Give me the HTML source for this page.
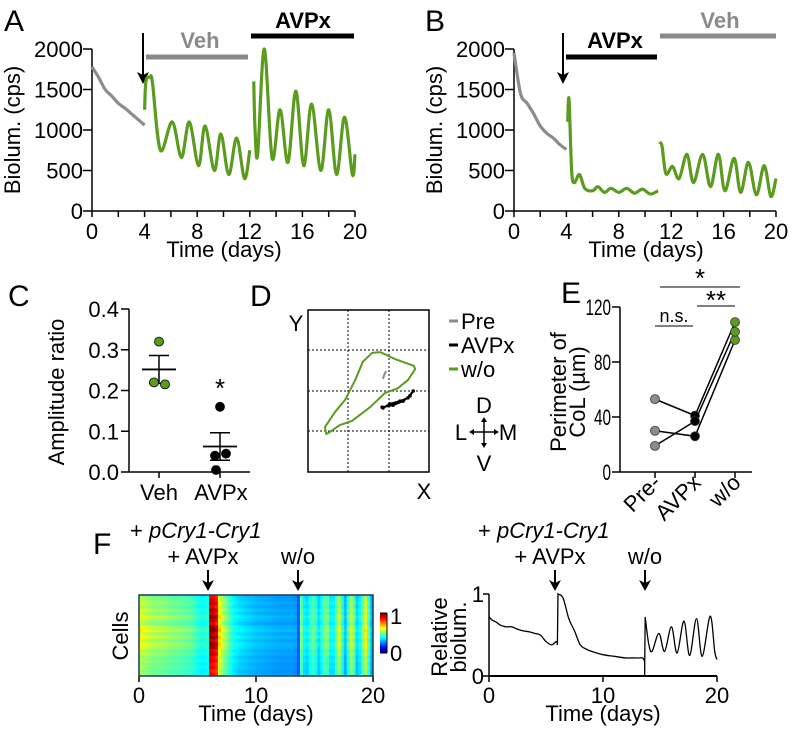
<!DOCTYPE html>
<html><head><meta charset="utf-8"><style>
html,body{margin:0;padding:0;background:#fff;}
svg{display:block;font-family:"Liberation Sans",sans-serif;}
.t{font-size:22px;fill:#000;}
.L{font-size:30px;fill:#000;}
</style></head><body>
<svg id="fig" width="793" height="731" viewBox="0 0 793 731" xmlns="http://www.w3.org/2000/svg">
<!-- Panel A -->
<g>
<text class="L" x="4" y="31">A</text>
<text x="200" y="48" text-anchor="middle" font-size="22" font-weight="bold" fill="#8a8a8a">Veh</text>
<line x1="146" y1="57" x2="248" y2="57" stroke="#8a8a8a" stroke-width="5"/>
<text x="303" y="28" text-anchor="middle" font-size="22" font-weight="bold">AVPx</text>
<line x1="251" y1="36" x2="354" y2="36" stroke="#000" stroke-width="5"/>
<g><line x1="143" y1="33" x2="143" y2="76" stroke="#000" stroke-width="2"/><path d="M137,72 L143,84 L149,72 L143,75 Z" fill="#000"/></g>
<text class="t" transform="translate(20,130) rotate(-90)" text-anchor="middle">Biolum. (cps)</text>
<text class="t" x="224" y="257" text-anchor="middle">Time (days)</text>
<g id="axA"></g>
</g>
<!-- Panel B -->
<g>
<text class="L" x="425" y="31">B</text>
<text x="615" y="48" text-anchor="middle" font-size="22" font-weight="bold">AVPx</text>
<line x1="566" y1="57" x2="657" y2="57" stroke="#000" stroke-width="5"/>
<text x="720" y="28" text-anchor="middle" font-size="22" font-weight="bold" fill="#8a8a8a">Veh</text>
<line x1="660" y1="36" x2="776" y2="36" stroke="#8a8a8a" stroke-width="5"/>
<g><line x1="563" y1="33" x2="563" y2="76" stroke="#000" stroke-width="2"/><path d="M557,72 L563,84 L569,72 L563,75 Z" fill="#000"/></g>
<text class="t" transform="translate(442,130) rotate(-90)" text-anchor="middle">Biolum. (cps)</text>
<text class="t" x="646" y="257" text-anchor="middle">Time (days)</text>
<g id="axB"></g>
</g>
<!-- Panel C -->
<g>
<text class="L" x="8" y="306">C</text>
<text class="t" transform="translate(64,392) rotate(-90)" text-anchor="middle">Amplitude ratio</text>
<text class="t" x="159" y="500" text-anchor="middle">Veh</text>
<text class="t" x="221" y="500" text-anchor="middle">AVPx</text>
<text x="220" y="397" text-anchor="middle" font-size="26">*</text>
<g id="axC"></g>
</g>
<!-- Panel D -->
<g>
<text class="L" x="250" y="306">D</text>
<text class="t" x="296" y="331" text-anchor="middle">Y</text>
<text class="t" x="424" y="499" text-anchor="middle">X</text>
<rect x="308" y="310" width="121" height="162" fill="none" stroke="#000" stroke-width="1.5"/>
<g stroke="#000" stroke-width="1" stroke-dasharray="2,2">
<line x1="348" y1="310" x2="348" y2="472"/><line x1="389" y1="310" x2="389" y2="472"/>
<line x1="308" y1="350" x2="429" y2="350"/><line x1="308" y1="391" x2="429" y2="391"/><line x1="308" y1="431" x2="429" y2="431"/>
</g>
<g id="dPlot"></g>
<g>
<line x1="449" y1="321" x2="458" y2="321" stroke="#8c8c8c" stroke-width="3"/><text class="t" x="461" y="329">Pre</text>
<line x1="449" y1="345" x2="458" y2="345" stroke="#000" stroke-width="3"/><text class="t" x="461" y="353">AVPx</text>
<line x1="449" y1="369" x2="458" y2="369" stroke="#5b9b1d" stroke-width="3"/><text class="t" x="461" y="377">w/o</text>
</g>
<g>
<text class="t" x="484" y="413" text-anchor="middle">D</text>
<text class="t" x="461" y="440" text-anchor="middle">L</text>
<text class="t" x="508" y="440" text-anchor="middle">M</text>
<text class="t" x="484" y="471" text-anchor="middle">V</text>
<line x1="471" y1="432" x2="497" y2="432" stroke="#000" stroke-width="1.5"/>
<line x1="484" y1="419" x2="484" y2="446" stroke="#000" stroke-width="1.5"/>
<path d="M469,432 l5,-3 v6z M499,432 l-5,-3 v6z M484,417 l-3,5 h6z M484,448 l-3,-5 h6z" fill="#000"/>
</g>
</g>
<!-- Panel E -->
<g>
<text class="L" x="561" y="303">E</text>
<text class="t" transform="translate(566,392) rotate(-90)" text-anchor="middle">Perimeter of</text>
<text class="t" transform="translate(585,392) rotate(-90)" text-anchor="middle">CoL (µm)</text>
<text class="t" transform="translate(662,484) rotate(-45)" text-anchor="end">Pre-</text>
<text class="t" transform="translate(702,484) rotate(-45)" text-anchor="end">AVPx</text>
<text class="t" transform="translate(742,484) rotate(-45)" text-anchor="end">w/o</text>
<line x1="660" y1="287" x2="740" y2="287" stroke="#000" stroke-width="1"/>
<text x="700" y="287" text-anchor="middle" font-size="26">*</text>
<line x1="697" y1="306" x2="735" y2="306" stroke="#000" stroke-width="1"/>
<text x="716" y="309" text-anchor="middle" font-size="26">**</text>
<line x1="655" y1="326" x2="693" y2="326" stroke="#000" stroke-width="1"/>
<text x="674" y="322" text-anchor="middle" font-size="18">n.s.</text>
<g id="axE"></g>
</g>
<!-- Panel F -->
<g>
<text class="L" x="93" y="554">F</text>
<text class="t" x="130" y="538">+ <tspan font-style="italic">pCry1-Cry1</tspan></text>
<text class="t" x="203" y="564" text-anchor="middle">+ AVPx</text>
<text class="t" x="298" y="564" text-anchor="middle">w/o</text>
<g><line x1="208" y1="570" x2="208" y2="584" stroke="#000" stroke-width="2"/><path d="M202,580 L208,591 L214,580 L208,583 Z" fill="#000"/></g>
<g><line x1="298" y1="570" x2="298" y2="584" stroke="#000" stroke-width="2"/><path d="M292,580 L298,591 L304,580 L298,583 Z" fill="#000"/></g>
<text class="t" transform="translate(128,636) rotate(-90)" text-anchor="middle">Cells</text>
<text class="t" x="256" y="721" text-anchor="middle">Time (days)</text>
<g id="heat"></g>
<rect x="139" y="595" width="234" height="81" fill="none" stroke="#1a3a5a" stroke-width="1.5"/>
<g id="cbar"></g>
<text class="t" x="390" y="624" font-size="24">1</text>
<text class="t" x="390" y="661" font-size="24">0</text>
<text class="t" x="478" y="538">+ <tspan font-style="italic">pCry1-Cry1</tspan></text>
<text class="t" x="550" y="564" text-anchor="middle">+ AVPx</text>
<text class="t" x="645" y="564" text-anchor="middle">w/o</text>
<g><line x1="555" y1="570" x2="555" y2="584" stroke="#000" stroke-width="2"/><path d="M549,580 L555,591 L561,580 L555,583 Z" fill="#000"/></g>
<g><line x1="645" y1="570" x2="645" y2="584" stroke="#000" stroke-width="2"/><path d="M639,580 L645,591 L651,580 L645,583 Z" fill="#000"/></g>
<text class="t" transform="translate(447,637) rotate(-90)" text-anchor="middle">Relative</text>
<text class="t" transform="translate(466,637) rotate(-90)" text-anchor="middle">biolum.</text>
<text class="t" x="603" y="721" text-anchor="middle">Time (days)</text>
<g id="axF"></g>
</g>
</svg>
<script>
// ---- data ----
const aGrayT=[0,0.5,1,1.5,2,2.5,3,3.5,4];
const aGrayV=[1780,1650,1500,1420,1330,1270,1200,1130,1060];
const aG1T=[4,4.1,4.4,4.6,5.2,6.1,6.8,7.4,8.1,8.6,9.3,9.8,10.4,11,11.6,12];
const aG1V=[1250,1600,1650,1580,750,1100,660,1100,560,1050,500,950,450,900,400,750];
const aG2T=[12.3,12.4,12.6,13.1,13.7,14.3,14.9,15.5,16.1,16.7,17.4,18,18.6,19.2,19.8,20];
const aG2V=[1600,1000,700,2000,650,1250,600,1480,560,1320,500,1250,450,1160,450,700];
const bGrayT=[0,0.5,1,1.5,2,2.5,3,3.5,4];
const bGrayV=[1950,1450,1330,1200,1050,960,900,820,760];
const bG1T=[4.1,4.2,4.4,4.6,5,5.4,6,6.4,6.9,7.4,8,8.6,9.2,9.8,10.4,11];
const bG1V=[1100,1380,500,350,450,280,250,300,230,280,230,280,220,270,210,250];
const bG2T=[11.1,11.3,11.6,12.1,12.6,13.2,13.7,14.4,15,15.6,16.1,16.8,17.3,17.9,18.5,19.1,19.6,20];
const bG2V=[850,800,460,550,400,700,350,700,300,700,250,650,230,600,200,560,180,400];
const bioTicks=[0,500,1000,1500,2000];
const dayTicks=[0,4,8,12,16,20];
const cVeh=[0.32,0.22,0.215];
const cAvpx=[0.16,0.04,0.045,0.005];
const cTicks=[0,0.1,0.2,0.3,0.4];
const dGreenX=[0.45,0.42,0.67,0.92,1.17,1.36,1.59,1.79,2.16,2.63,2.66,2.48,2.23,1.91,1.54,1.09,0.79,0.5];
const dGreenY=[0.94,1.11,1.48,1.78,2.27,2.72,2.94,2.96,2.79,2.62,2.54,2.27,2.07,1.95,1.6,1.26,1.16,0.96];
const dGrayX=[1.86,1.9,1.94];
const dGrayY=[2.3,2.42,2.49];
const dBlackX=[1.84,2.11,2.36,2.53,2.61,2.48,2.28,2.03,1.86];
const dBlackY=[1.6,1.65,1.75,1.88,2.0,1.83,1.75,1.68,1.58];
const ePre=[53,30,19];
const eAvpx=[41,26,37];
const eWo=[109,96,102];
const eTicks=[0,40,80,120];
const fT=[0,0.3,0.6,1,1.5,2,2.5,3,3.5,4,4.5,5,5.5,5.9,6,6.05,6.5,7,7.5,8,8.5,9,10,11,12,13,13.6,13.65,13.7,14,14.3,14.9,15.4,16,16.5,17.1,17.6,18.2,18.7,19.4,19.8,20];
const fV=[0.72,0.68,0.66,0.62,0.6,0.6,0.57,0.55,0.54,0.52,0.5,0.42,0.38,0.42,0.38,1.0,0.95,0.7,0.55,0.38,0.33,0.3,0.26,0.24,0.22,0.22,0.2,0.0,0.72,0.4,0.3,0.52,0.3,0.6,0.28,0.67,0.25,0.7,0.24,0.73,0.3,0.2];
const fTicks=[0,10,20];
const rowFactor=[0.9,0.95,1.0,0.92,1.05,0.97,1.1,1.0,0.93,1.08,1.15,1.02,1.12,0.98,1.1,1.05,0.95,1.0,0.9,0.96,0.88,0.92,0.85,0.9];

// ---- helpers ----
const NS='http://www.w3.org/2000/svg';
function mk(parent,tag,attrs){const e=document.createElementNS(NS,tag);for(const k in attrs)e.setAttribute(k,attrs[k]);parent.appendChild(e);return e;}
function smooth(pts){let d='M'+pts[0][0]+','+pts[0][1];for(let i=0;i<pts.length-1;i++){const p0=pts[Math.max(0,i-1)],p1=pts[i],p2=pts[i+1],p3=pts[Math.min(pts.length-1,i+2)];const c1x=p1[0]+(p2[0]-p0[0])/6,c1y=p1[1]+(p2[1]-p0[1])/6,c2x=p2[0]-(p3[0]-p1[0])/6,c2y=p2[1]-(p3[1]-p1[1])/6;d+=' C'+c1x+','+c1y+' '+c2x+','+c2y+' '+p2[0]+','+p2[1];}return d;}
function pts(T,V,fx,fy){return T.map((t,i)=>[fx(t),fy(V[i])]);}
const G='#5b9b1d',GR='#8c8c8c';

function timeAxis(g,x0,fx,fy,pfx){
  const ax=mk(g,'line',{x1:x0,y1:fy(0),x2:x0,y2:fy(2000),stroke:'#000','stroke-width':1.5});
  
  
  const xa=mk(g,'line',{x1:x0,y1:fy(0),x2:fx(20),y2:fy(0),stroke:'#000','stroke-width':1.5});
  
  
  bioTicks.forEach(v=>{
    mk(g,'line',{x1:x0-9,y1:fy(v),x2:x0,y2:fy(v),stroke:'#000','stroke-width':1.5});
    const t=mk(g,'text',{x:x0-9,y:fy(v)+8,'text-anchor':'end','class':'t','font-size':23});
    t.textContent=v;
    
    
  });
  for(let d=0;d<=20;d+=2){mk(g,'line',{x1:fx(d),y1:fy(0),x2:fx(d),y2:fy(0)+6,stroke:'#000','stroke-width':1.5});}
  dayTicks.forEach(d=>{
    const t=mk(g,'text',{x:fx(d),y:fy(0)+28,'text-anchor':'middle','class':'t','font-size':23});
    t.textContent=d;
    
    
  });
}
function trace(g,T,V,fx,fy,col,name){
  const p=mk(g,'path',{d:smooth(pts(T,V,fx,fy)),fill:'none',stroke:col,'stroke-width':3.2,'stroke-linejoin':'round'});
  
  
}

// Panel A
const axA=document.getElementById('axA');
const aX=t=>92+t*13.15, aY=v=>211-v*0.081;
timeAxis(axA,92,aX,aY,'a');
trace(axA,aGrayT,aGrayV,aX,aY,GR,'baseline-trace-a');
trace(axA,aG1T,aG1V,aX,aY,G,'veh-trace-a');
trace(axA,aG2T,aG2V,aX,aY,G,'avpx-trace-a');
// Panel B
const axB=document.getElementById('axB');
const bX=t=>514+t*13.1, bY=v=>211-v*0.081;
timeAxis(axB,514,bX,bY,'b');
trace(axB,bGrayT,bGrayV,bX,bY,GR,'baseline-trace-b');
trace(axB,bG1T,bG1V,bX,bY,G,'avpx-trace-b');
trace(axB,bG2T,bG2V,bX,bY,G,'veh-trace-b');

// Panel C
const axC=document.getElementById('axC');
const cY=v=>472-v*407.5;
const cya=mk(axC,'line',{x1:129,y1:cY(0),x2:129,y2:cY(0.4),stroke:'#000','stroke-width':1.5});


const cxa=mk(axC,'line',{x1:129,y1:cY(0),x2:250,y2:cY(0),stroke:'#000','stroke-width':1.5});


cTicks.forEach(v=>{
  mk(axC,'line',{x1:121,y1:cY(v),x2:129,y2:cY(v),stroke:'#000','stroke-width':1.5});
  const t=mk(axC,'text',{x:119,y:cY(v)+8,'text-anchor':'end','class':'t'});
  t.textContent=v.toFixed(1);
  
  
});
[159,220].forEach(x=>mk(axC,'line',{x1:x,y1:cY(0),x2:x,y2:cY(0)+6,stroke:'#000','stroke-width':1.5}));
function dotGroup(vals,x,col,name){
  const m=vals.reduce((a,b)=>a+b,0)/vals.length;
  const sd=Math.sqrt(vals.reduce((a,b)=>a+(b-m)*(b-m),0)/(vals.length-1));const se=sd/Math.sqrt(vals.length);
  const ml=mk(axC,'line',{x1:x-17,y1:cY(m),x2:x+17,y2:cY(m),stroke:'#000','stroke-width':1.8});
  
  
  mk(axC,'line',{x1:x,y1:cY(m-se),x2:x,y2:cY(m+se),stroke:'#000','stroke-width':1.5});
  mk(axC,'line',{x1:x-10,y1:cY(m+se),x2:x+10,y2:cY(m+se),stroke:'#000','stroke-width':1.5});
  mk(axC,'line',{x1:x-10,y1:cY(m-se),x2:x+10,y2:cY(m-se),stroke:'#000','stroke-width':1.5});
  const offs=[0,-5,6,-4];
  vals.forEach((v,i)=>{
    const c=mk(axC,'circle',{cx:x+offs[i%4],cy:cY(v),r:4.5,fill:col,stroke:'#000','stroke-width':0.8});
    
    
  });
}
dotGroup(cVeh,159,'#5b9b1d','veh');
dotGroup(cAvpx,220,'#000','avpx');

// Panel D
const dP=document.getElementById('dPlot');
const dX=u=>308+u*40.3, dY=v=>472-v*40.5;
function dLine(X,Y,col,name,close){
  let d=X.map((u,i)=>(i?'L':'M')+dX(u)+','+dY(Y[i])).join(' ');if(close)d+='Z';
  const p=mk(dP,'path',{d:d,fill:'none',stroke:col,'stroke-width':2,'stroke-linejoin':'round'});
  
  
}
dLine(dGreenX,dGreenY,G,'wo-trajectory',true);
dLine(dGrayX,dGrayY,GR,'pre-trajectory',false);
dLine(dBlackX,dBlackY,'#000','avpx-trajectory',false);
dBlackX.forEach((u,i)=>mk(dP,'circle',{cx:dX(u),cy:dY(dBlackY[i]),r:1.8,fill:'#000'}));

// Panel E
const axE=document.getElementById('axE');
const eY=v=>472-v*1.375, eX=[655,695,735];
const eya=mk(axE,'line',{x1:620,y1:eY(0),x2:620,y2:eY(120),stroke:'#000','stroke-width':1.5});


const exa=mk(axE,'line',{x1:620,y1:eY(0),x2:752,y2:eY(0),stroke:'#000','stroke-width':1.5});


eTicks.forEach(v=>{
  mk(axE,'line',{x1:612,y1:eY(v),x2:620,y2:eY(v),stroke:'#000','stroke-width':1.5});
  const s=String(v);
  const t=mk(axE,'text',{x:611,y:eY(v)+8,'text-anchor':'end','class':'t',textLength:s.length*8.5,lengthAdjust:'spacingAndGlyphs'});
  t.textContent=s;
  
  
});
eX.forEach(x=>mk(axE,'line',{x1:x,y1:eY(0),x2:x,y2:eY(0)+6,stroke:'#000','stroke-width':1.5}));
ePre.forEach((v,i)=>{
  const l=mk(axE,'polyline',{points:eX[0]+','+eY(v)+' '+eX[1]+','+eY(eAvpx[i])+' '+eX[2]+','+eY(eWo[i]),fill:'none',stroke:'#000','stroke-width':1.5});
  
  
});
[[ePre,'#8c8c8c','pre'],[eAvpx,'#000','avpx'],[eWo,G,'wo']].forEach((s,k)=>{
  s[0].forEach(v=>{
    const c=mk(axE,'circle',{cx:eX[k],cy:eY(v),r:4.5,fill:s[1],stroke:'#333','stroke-width':0.8});
    
    
  });
});

// Panel F heatmap
function interp(t){for(let i=0;i<fT.length-1;i++){if(t>=fT[i]&&t<=fT[i+1]){const f=(t-fT[i])/((fT[i+1]-fT[i])||1);return fV[i]+(fV[i+1]-fV[i])*f;}}return fV[fV.length-1];}
function jet(v){v=Math.max(0,Math.min(1,v));const r=Math.max(0,Math.min(1,1.5-Math.abs(4*v-3))),g=Math.max(0,Math.min(1,1.5-Math.abs(4*v-2))),b=Math.max(0,Math.min(1,1.5-Math.abs(4*v-1)));return 'rgb('+Math.round(r*255)+','+Math.round(g*255)+','+Math.round(b*255)+')';}
const heat=document.getElementById('heat');
const hX=t=>139+t*11.7;
const nCols=80, rowH=81/rowFactor.length;
rowFactor.forEach((rf,r)=>{
  for(let c=0;c<nCols;c++){
    const t=c*20/nCols;
    const raw=interp(t+0.125);
    let v=0.15+raw*0.62*rf;
    if(raw>0.85)v+=0.18;
    const cell=mk(heat,'rect',{x:hX(t),y:595+r*rowH,width:11.7*20/nCols+0.5,height:rowH+0.5,fill:jet(v)});
    
    
  }
});
const hxa=mk(heat,'g',{});
fTicks.forEach(d=>{
  mk(hxa,'line',{x1:hX(d),y1:676,x2:hX(d),y2:682,stroke:'#000','stroke-width':1.5});
  const t=mk(hxa,'text',{x:hX(d),y:703,'text-anchor':'middle','class':'t','font-size':24});
  t.textContent=d;
  
  
});
const cb=document.getElementById('cbar');
for(let i=0;i<40;i++){mk(cb,'rect',{x:380,y:613+i*1,width:7,height:1.2,fill:jet(1-i/39)});}
const cbf=mk(cb,'path',{d:'M380,613 H387 M380,653 H387 M387,613 V653',stroke:'#000','stroke-width':1,fill:'none'});



// Panel F right trace
const axF=document.getElementById('axF');
const fx=t=>489+t*11.4, fy=v=>676-v*82;
const fya=mk(axF,'line',{x1:489,y1:fy(0),x2:489,y2:fy(1),stroke:'#000','stroke-width':1.5});


const fxa=mk(axF,'line',{x1:489,y1:fy(0),x2:fx(20),y2:fy(0),stroke:'#000','stroke-width':2});


[[0,'0'],[1,'1']].forEach(p=>{
  mk(axF,'line',{x1:483,y1:fy(p[0]),x2:489,y2:fy(p[0]),stroke:'#000','stroke-width':1.5});
  const t=mk(axF,'text',{x:484,y:fy(p[0])+8,'text-anchor':'end','class':'t','font-size':24});
  t.textContent=p[1];
  
  
});
fTicks.forEach(d=>{
  mk(axF,'line',{x1:fx(d),y1:676,x2:fx(d),y2:682,stroke:'#000','stroke-width':1.5});
  const t=mk(axF,'text',{x:fx(d),y:703,'text-anchor':'middle','class':'t','font-size':24});
  t.textContent=d;
  
  
});
let segs=[[]];
fT.forEach((t,i)=>{
  if(i>0&&Math.abs(fV[i]-fV[i-1])>0.3&&(t-fT[i-1])<0.1){segs.push([]);}
  segs[segs.length-1].push([fx(t),fy(fV[i])]);
});
let dd='';
segs.forEach((s,k)=>{
  if(s.length<2)return;
  const sp=smooth(s);
  dd+=(k>0?' L'+s[0][0]+','+s[0][1]+' ':'')+(k>0?sp.replace(/^M[^ ]+/,''):sp);
});
const fl=mk(axF,'path',{d:dd,fill:'none',stroke:'#000','stroke-width':1.3});


</script>
</body></html>
